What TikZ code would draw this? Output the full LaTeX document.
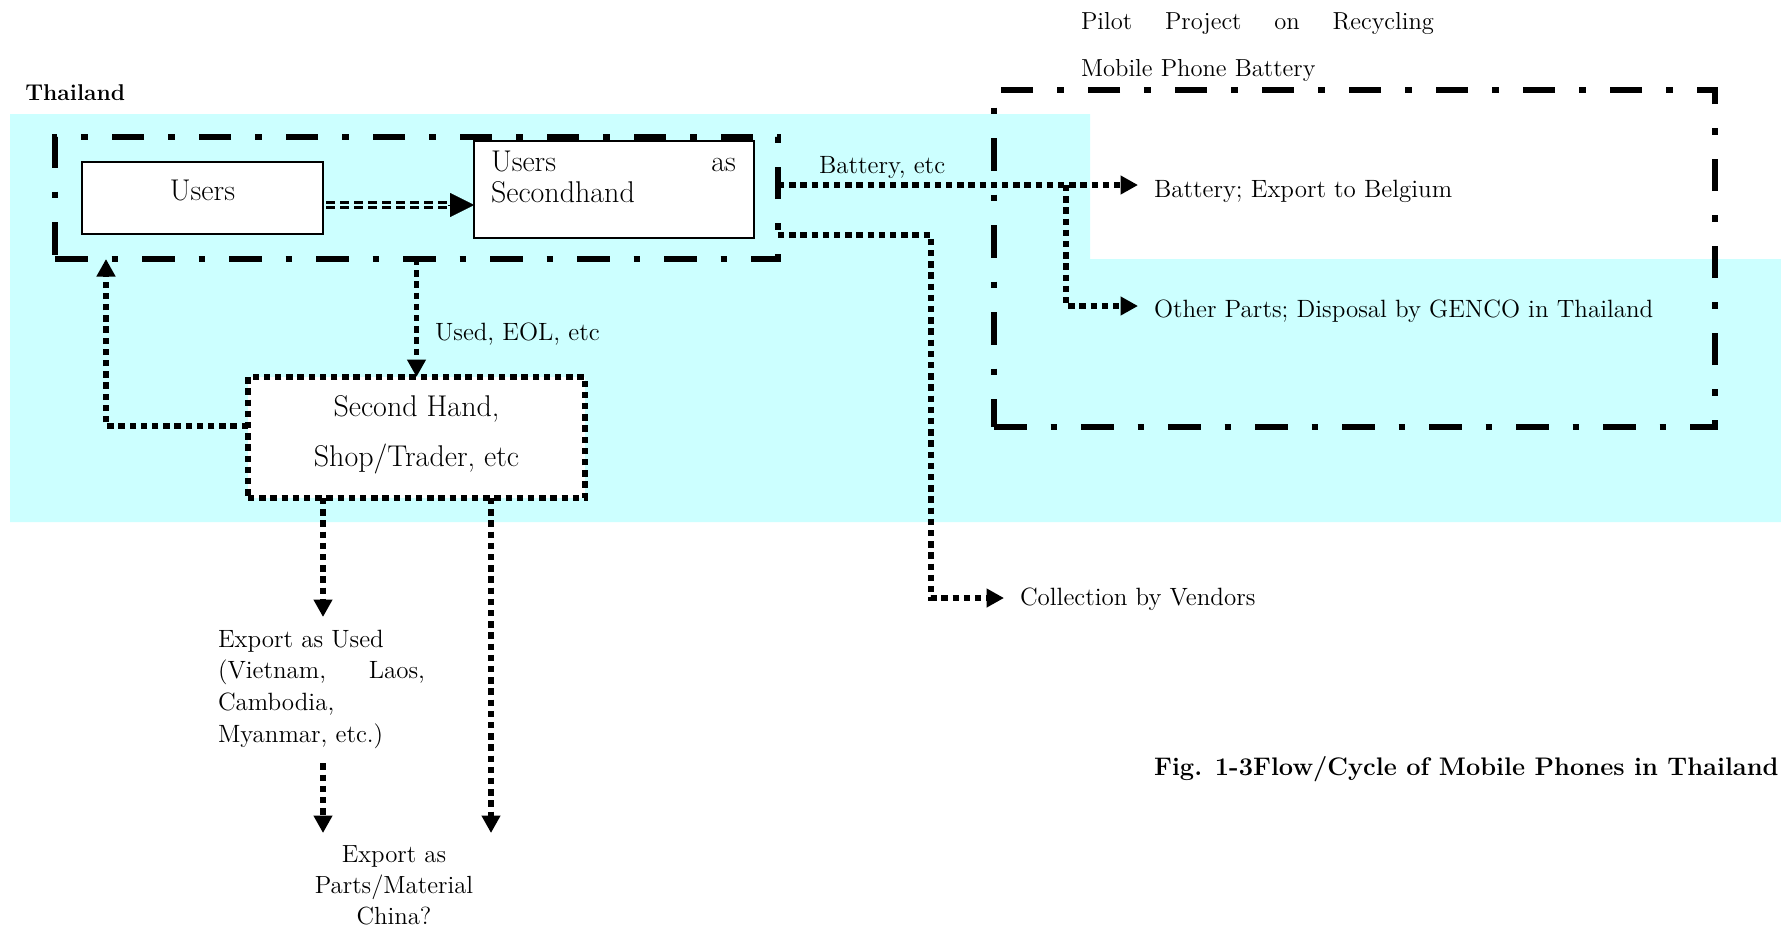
\documentclass[tikz,border=0pt]{standalone}
\usepackage{fontspec}
\usetikzlibrary{arrows.meta}
\definecolor{cyanbg}{RGB}{204,255,255}
\tikzset{
  grpbox/.style={draw, line width=3.3pt, dash pattern=on 16.25pt off 12pt on 3.25pt off 12pt, inner sep=0pt, outer sep=0pt},
  plainbox/.style={draw, line width=0.8pt, fill=white, inner sep=0pt, outer sep=0pt},
  dotbox/.style={draw, line width=2.6pt, dash pattern=on 3.2pt off 2.4pt, fill=white, inner sep=0pt, outer sep=0pt},
  flow/.style={line width=2.6pt, dash pattern=on 3.2pt off 2.4pt},
  tipS/.style={-{Triangle[length=8.75pt,width=9pt]}},
  bigtip/.style={-{Triangle[length=12pt,width=12pt]}, line width=0.1pt},
  dbl/.style={line width=1.15pt, double=cyanbg, double distance=1.4pt, dash pattern=on 4.6pt off 2.4pt},
  txt/.style={inner sep=0pt, outer sep=0pt, font=\fontsize{12.5}{14}\selectfont},
  boxtxt/.style={inner sep=0pt, outer sep=0pt, font=\fontsize{15}{15.5}\selectfont},
}
\begin{document}
\begin{tikzpicture}[x=0.5pt, y=-0.5pt]
\useasboundingbox (0,0) rectangle (1781,932);
\fill[white] (0,0) rectangle (1781,932);
% cyan region (Thailand)
\fill[cyanbg] (10,114) -- (1090,114) -- (1090,259) -- (1781,259) -- (1781,522) -- (10,522) -- cycle;

% helper coordinates
\coordinate (ya) at (0,205);
\coordinate (yb) at (0,185);
\coordinate (br) at (1066,185);
\coordinate (yo) at (0,306);
\coordinate (yc) at (0,235);
\coordinate (cb) at (931,598);
\coordinate (xl) at (106,0);
\coordinate (xa) at (323,0);
\coordinate (xb) at (491,0);

% group boxes
\node[grpbox, minimum width=361.5pt, minimum height=61pt] (grp) at (416.5,198) {};
\node[grpbox, minimum width=360.5pt, minimum height=168.5pt] (pilot) at (1354.5,258.5) {};

% boxes
\node[plainbox, boxtxt, minimum width=120.5pt, minimum height=36pt, text depth=8pt] (users) at (202.5,198) {Users};
\node[plainbox, minimum width=140pt, minimum height=48.5pt] (ush) at (614,189.5) {};
\node[boxtxt, anchor=north west, text width=122.5pt, align=left] (usht) at (491,151) {\makebox[122.5pt]{Users\hfill as}\\Secondhand};
\node[dotbox, minimum width=168.5pt, minimum height=60.5pt] (sh) at (416.5,437.5) {};
\node[boxtxt, font=\fontsize{15}{25}\selectfont, anchor=north, align=center] (sht) at (416.5,396) {Second Hand,\\Shop/Trader, etc};

% texts
\node[anchor=base west, inner sep=0pt, font=\fontsize{11.4}{13}\selectfont\bfseries] (thai) at (25,100) {Thailand};
\node[txt, anchor=north west, text width=176.5pt, align=left, font=\fontsize{12.3}{23.75}\selectfont] (pilott) at (1081,12.3) {\makebox[176.5pt]{Pilot\hfill Project\hfill on\hfill Recycling}\\Mobile Phone Battery};
\node[txt, anchor=base west] (lblbat) at (819,173) {Battery, etc};
\node[txt, anchor=base west] (lblused) at (435,340) {Used, EOL, etc};
\node[txt, anchor=base west] (bat) at (1154,197) {Battery; Export to Belgium};
\node[txt, anchor=base west] (oth) at (1154,317) {Other Parts; Disposal by GENCO in Thailand};
\node[txt, anchor=base west] (col) at (1020,605) {Collection by Vendors};
\node[anchor=base east, inner sep=0pt, font=\fontsize{12.7}{14}\selectfont\bfseries] (cap) at (1779,775) {Fig. 1-3Flow/Cycle of Mobile Phones in Thailand};
\node[txt, anchor=north west, align=left, font=\fontsize{12.5}{15.8}\selectfont] (eu) at (218,630) {Export as Used\\\makebox[103.5pt]{(Vietnam,\hfill Laos,}\\Cambodia,\\Myanmar, etc.)};
\node[txt, anchor=north, align=center, font=\fontsize{12.4}{15.5}\selectfont] (ep) at (394,846) {Export as\\Parts/Material\\China?};

% connectors
\draw[dbl, shorten <=1.5pt, shorten >=12.5pt] (users.east |- ya) -- (ush.west |- ya);
\path (ush.west |- ya) ++(-13pt,0) coordinate (tb);
\draw[bigtip] (tb) -- (ush.west |- ya);
\draw[flow, tipS] (grp.south) -- (sh.north);
\draw[flow, tipS] ([yshift=5.75pt]sh.west) -| (xl |- grp.south);
\draw[flow, tipS, shorten >=8pt] (grp.east |- yb) -- (bat.west |- yb);
\draw[flow, tipS, shorten >=8pt] (br) |- (oth.west |- yo);
\draw[flow, tipS, shorten >=8pt] (grp.east |- yc) -| (cb) -- (col.west |- cb);
\draw[flow, tipS, shorten >=6.5pt] (sh.south -| xa) -- (xa |- eu.north);
\draw[flow, tipS, shorten <=7.5pt, shorten >=6.5pt] (xa |- eu.south) -- (xa |- ep.north);
\draw[flow, tipS, shorten >=6.5pt] (sh.south -| xb) -- (xb |- ep.north);
\end{tikzpicture}
\end{document}
